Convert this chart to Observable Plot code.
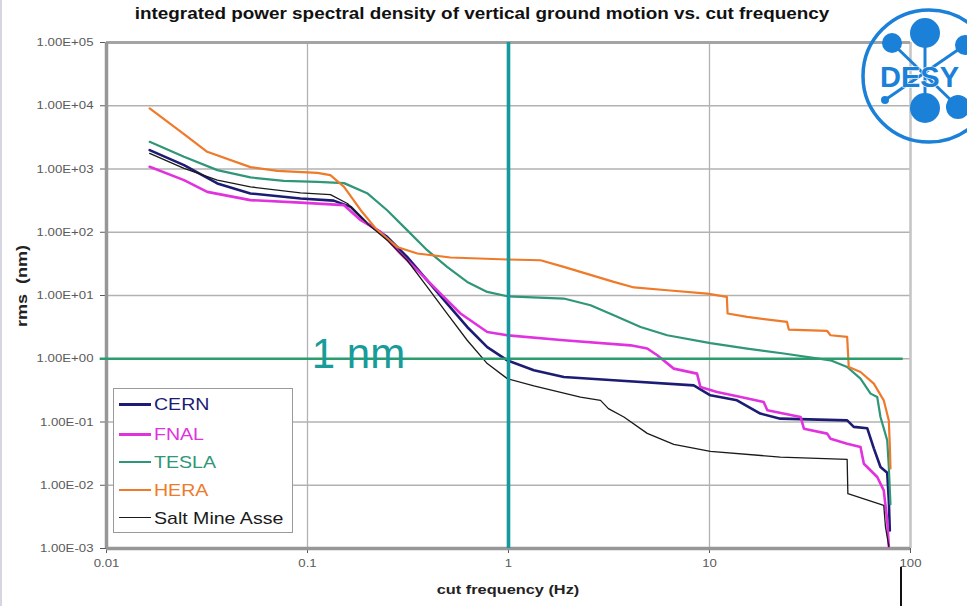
<!DOCTYPE html>
<html><head><meta charset="utf-8">
<script src="https://cdn.jsdelivr.net/npm/d3@7"></script>
<script src="https://cdn.jsdelivr.net/npm/@observablehq/plot@0.6"></script>
<style>
body{margin:0;background:#fff;font-family:"Liberation Sans",Arial,sans-serif;}
#wrap{position:relative;width:967px;height:606px;overflow:hidden;background:#fff;}
.ov{position:absolute;white-space:pre;line-height:1;}
</style></head><body><div id="wrap"></div>
<script>
// ---- data (cut frequency in Hz, integrated rms in nm) ----
const seriesNames = ["CERN", "FNAL", "TESLA", "HERA", "Salt Mine Asse"];
const seriesColors = ["#1c1c74", "#e032de", "#2f9677", "#ee7a2a", "#1a1a1a"];
const seriesWidths = [2.6, 2.6, 2.2, 2.2, 1.3];

const cernData = [[0.0164,1990],[0.0243,1150],[0.0356,591],[0.052,411],[0.0923,342],[0.135,316],[0.164,252],[0.198,138],[0.249,84.5],[0.313,40.7],[0.394,17.4],[0.495,7.46],[0.623,3.18],[0.784,1.53],[0.986,0.944],[1.337,0.656],[1.884,0.514],[3.34,0.456],[8.35,0.380],[10.1,0.264],[13.7,0.220],[17.9,0.136],[22.5,0.113],[48.4,0.106],[52.2,0.0838],[60.9,0.0798],[65.7,0.0383],[70.9,0.0194],[76.6,0.0157],[78.0,0.00575],[78.9,0.00193]];
const fnalData = [[0.0164,1083],[0.0243,667],[0.0317,435],[0.052,322],[0.0923,294],[0.152,268],[0.184,155],[0.231,101],[0.290,46.1],[0.365,22.3],[0.459,10.7],[0.577,5.19],[0.784,2.65],[0.986,2.35],[1.884,1.96],[4.05,1.63],[4.90,1.45],[5.50,1.135],[6.64,0.698],[8.67,0.582],[9.01,0.357],[10.9,0.298],[14.3,0.248],[18.6,0.207],[19.4,0.153],[28.4,0.120],[29.5,0.0785],[38.5,0.0655],[40.0,0.0545],[48.4,0.0454],[56.4,0.0401],[58.6,0.0219],[68.3,0.0135],[73.6,0.00828],[76.6,0.00277],[78.0,0.00108]];
const teslaData = [[0.0164,2690],[0.0243,1560],[0.0356,960],[0.052,736],[0.0762,650],[0.112,627],[0.152,598],[0.198,415],[0.249,223],[0.313,108],[0.394,52.0],[0.495,28.3],[0.623,16.4],[0.784,11.4],[0.986,9.73],[1.884,8.95],[2.56,7.01],[3.34,4.87],[4.54,3.18],[6.16,2.35],[10.1,1.77],[15.4,1.45],[23.4,1.21],[40.0,0.944],[48.4,0.740],[56.4,0.485],[63.3,0.281],[68.3,0.248],[70.9,0.120],[76.6,0.0512],[78.0,0.0194],[79.5,0.005]];
const heraData = [[0.0164,9100],[0.0243,3560],[0.0317,1870],[0.052,1072],[0.0707,935],[0.112,870],[0.130,800],[0.152,522],[0.184,223],[0.222,108],[0.279,58.6],[0.352,46.1],[0.514,39.9],[0.986,37.1],[1.443,36.1],[1.884,28.3],[2.28,23.6],[3.34,16.4],[4.21,13.4],[6.16,12.1],[9.74,10.7],[12.2,9.49],[12.3,5.19],[15.4,4.58],[24.3,3.82],[24.8,2.89],[38.5,2.75],[40.0,2.35],[48.4,2.21],[49.3,0.74],[56.4,0.617],[65.7,0.404],[73.6,0.220],[78.0,0.106],[78.9,0.0427],[79.5,0.0185]];
const saltData = [[0.0164,1765],[0.0243,1021],[0.0356,667],[0.052,522],[0.0923,420],[0.130,393],[0.158,285],[0.198,138],[0.249,75],[0.313,36.1],[0.394,13.7],[0.495,5.19],[0.623,1.96],[0.784,0.838],[0.986,0.485],[1.337,0.373],[2.28,0.248],[2.87,0.220],[3.14,0.163],[3.75,0.120],[4.90,0.0661],[6.64,0.0443],[10.1,0.0343],[22.5,0.0279],[48.4,0.0256],[48.8,0.00735],[73.6,0.0048],[75.1,0.00217],[78.0,0.00108]];
const seriesData = [cernData, fnalData, teslaData, heraData, saltData];

const xTicks = [0.01, 0.1, 1, 10, 100];
const xTickLabels = ["0.01", "0.1", "1", "10", "100"];
const yTicks = [1e-3, 1e-2, 1e-1, 1e0, 1e1, 1e2, 1e3, 1e4, 1e5];
const yTickLabels = ["1.00E-03","1.00E-02","1.00E-01","1.00E+00","1.00E+01","1.00E+02","1.00E+03","1.00E+04","1.00E+05"];

const oneNmLine = [{y: 1, x1: 0.0093, x2: 92}];
const cutLine = [{x: 1}];
const oneNmLabel = [{x: 0.105, y: 0.71, text: "1 nm"}];

const titleText = "integrated power spectral density of vertical ground motion vs. cut frequency";
const xLabelText = "cut frequency (Hz)";
const yLabelText = "rms  (nm)";
const logoText = "DESY";

// ---- chart ----
const ff = '"Liberation Sans", Arial, sans-serif';
const marks = [
  Plot.ruleX(xTicks, {stroke: "#b2b2b2", strokeWidth: 1.3}),
  Plot.ruleY(yTicks, {stroke: "#b2b2b2", strokeWidth: 1.3}),
  Plot.ruleX([100], {stroke: "#c6c6c6", strokeWidth: 2.5}),
  Plot.ruleY([1e5], {stroke: "#a4a4a4", strokeWidth: 3}),
  Plot.axisY({ticks: yTicks, tickFormat: d => yTickLabels[yTicks.indexOf(d)], tickSize: 6, tickPadding: 7, fontSize: 11, color: "#5a5a5a", label: null}),
  Plot.axisX({ticks: xTicks, tickFormat: d => xTickLabels[xTicks.indexOf(d)], tickSize: 5, tickPadding: 6, fontSize: 11, color: "#5a5a5a", label: null}),
  Plot.ruleX([0.01], {stroke: "#979797", strokeWidth: 3.5}),
  Plot.ruleY([1e-3], {stroke: "#979797", strokeWidth: 3.5}),
];
seriesData.forEach((data, i) => {
  marks.push(Plot.line(data, {x: d => d[0], y: d => d[1], stroke: seriesColors[i], strokeWidth: seriesWidths[i], strokeLinejoin: "round"}));
});
marks.push(
  Plot.ruleY(oneNmLine, {y: "y", x1: "x1", x2: "x2", stroke: "#2b9c6c", strokeWidth: 2.3}),
  Plot.ruleX(cutLine, {x: "x", y1: 1e-3, y2: 1e5, stroke: "#14999c", strokeWidth: 3.6}),
  Plot.text(oneNmLabel, {x: "x", y: "y", text: "text", fontSize: 42, fill: "#189c9a", textAnchor: "start", lineAnchor: "bottom", fontFamily: ff})
);

const chart = Plot.plot({
  width: 967, height: 606,
  marginLeft: 106, marginRight: 57, marginTop: 42, marginBottom: 58,
  style: {fontFamily: ff, background: "white", overflow: "visible"},
  x: {type: "log", domain: [0.01, 100]},
  y: {type: "log", domain: [1e-3, 1e5]},
  marks
});
const wrap = document.getElementById("wrap");
wrap.appendChild(chart);

// widen tick labels a little, like the stretched original
chart.querySelectorAll('g[aria-label="y-axis tick label"] text, g[aria-label="x-axis tick label"] text').forEach(t => {
  const L = t.getComputedTextLength();
  t.setAttribute("textLength", (L * 1.2).toFixed(1));
  t.setAttribute("lengthAdjust", "spacingAndGlyphs");
});

// ---- overlays: title, axis labels, legend ----
const W = d3.select(wrap);
W.append("div").attr("class", "ov").text(titleText)
  .style("left", "481.5px").style("top", "6px")
  .style("font-weight", "bold").style("font-size", "16px").style("color", "#111")
  .style("transform", "translateX(-50%) scaleX(1.18)");
W.append("div").attr("class", "ov").text(xLabelText)
  .style("left", "508px").style("top", "583px")
  .style("font-weight", "bold").style("font-size", "13.5px").style("color", "#222")
  .style("transform", "translateX(-50%) scaleX(1.21)");
W.append("div").attr("class", "ov").text(yLabelText)
  .style("left", "21px").style("top", "286px")
  .style("font-weight", "bold").style("font-size", "15px").style("color", "#222")
  .style("transform", "translate(-50%,-50%) rotate(-90deg) scaleX(1.2)");

const leg = W.append("div").style("position", "absolute")
  .style("left", "113px").style("top", "388px").style("width", "180px").style("height", "145px")
  .style("border", "1px solid #9a9a9a").style("background", "#fff").style("box-sizing", "border-box");
const legY = [15, 45, 73, 101, 129];
seriesNames.forEach((name, i) => {
  leg.append("div").style("position", "absolute").style("left", "5px").style("top", (legY[i] - 1.3) + "px")
    .style("width", "32px").style("height", (seriesWidths[i] + 0.3) + "px").style("background", seriesColors[i]);
  leg.append("div").attr("class", "ov").text(name)
    .style("left", "40px").style("top", (legY[i] - 8.5) + "px")
    .style("font-size", "17px").style("color", seriesColors[i])
    .style("transform-origin", "left center").style("transform", "scaleX(1.15)");
});

// ---- decorations: DESY logo, page edge marks ----
W.append("div").style("position", "absolute").style("left", "0px").style("top", "0px")
  .style("width", "2px").style("height", "606px").style("background", "#d6d6e2");
W.append("div").style("position", "absolute").style("left", "900px").style("top", "567px")
  .style("width", "2px").style("height", "39px").style("background", "#111");

const logo = W.append("svg").style("position", "absolute").style("left", "840px").style("top", "0px")
  .attr("width", 127).attr("height", 160);
const blue = "#1a80d8";
logo.append("circle").attr("cx", 89).attr("cy", 76).attr("r", 66).attr("fill", "none").attr("stroke", blue).attr("stroke-width", 3.5);
[[85,33,85,108],[52,43,118,107],[125,45,45,100]].forEach(([a,b,c,d]) => {
  logo.append("line").attr("x1", a).attr("y1", b).attr("x2", c).attr("y2", d).attr("stroke", blue).attr("stroke-width", 3);
});
[[85,33,15],[85,108,15],[52,43,10],[125,45,10],[118,107,12],[45,100,4]].forEach(([cx,cy,r]) => {
  logo.append("circle").attr("cx", cx).attr("cy", cy).attr("r", r).attr("fill", blue);
});
logo.append("text").attr("x", 40).attr("y", 87).text(logoText)
  .attr("font-family", ff).attr("font-weight", "bold").attr("font-size", 29)
  .attr("fill", blue).attr("stroke", "#fff").attr("stroke-width", 1.2).attr("paint-order", "stroke");
</script></body></html>
